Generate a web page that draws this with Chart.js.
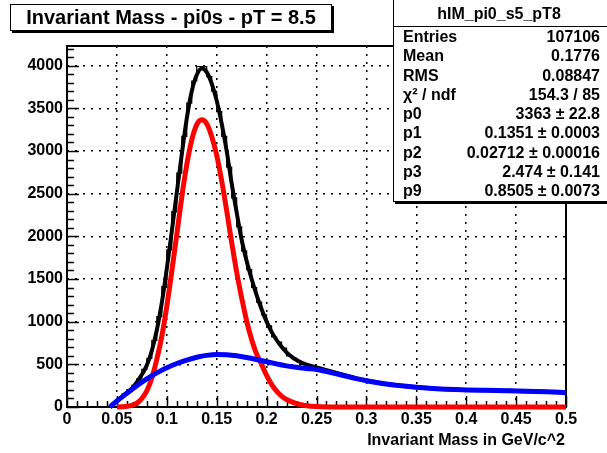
<!DOCTYPE html>
<html>
<head>
<meta charset="utf-8">
<script src="https://cdn.jsdelivr.net/npm/chart.js@4.4.0/dist/chart.umd.min.js"></script>
<style>
  body { margin: 0; background: #fff; }
  #wrap { position: relative; width: 607px; height: 453px; overflow: hidden; font-family: "Liberation Sans", Arial, sans-serif; font-weight: bold; }
  canvas { position: absolute; left: 0; top: 0; }
  .title { position: absolute; left: 10px; top: 4px; width: 320px; height: 25px; border: 1px solid #000; box-shadow: 2px 2px 0 #000; background: #fff; font-size: 20px; line-height: 25px; text-align: center; }
  .stats { position: absolute; left: 393px; top: -1px; width: 220px; height: 201px; border: 1.5px solid #000; box-shadow: 2px 2px 0 #000; background: #fff; }
  .stats .head { height: 26px; line-height: 27px; border-bottom: 1.5px solid #000; text-align: center; font-size: 16px; padding-right: 10px; }
  .stats .row { position: relative; height: 19.3px; line-height: 19.3px; font-size: 16px; }
  .stats .row span { position: absolute; }
  .stats .row .k { left: 9px; }
  .stats .row .v { right: 14px; }
  .xtitle { position: absolute; right: 42px; top: 431px; font-size: 16px; }
</style>
</head>
<body>
<div id="wrap">
  <canvas id="c" width="607" height="453"></canvas>
  <div class="title">Invariant Mass - pi0s - pT = 8.5</div>
  <div class="stats" id="stats"><div class="head">hIM_pi0_s5_pT8</div></div>
  <div class="xtitle">Invariant Mass in GeV/c^2</div>
</div>
<script>
// histogram bins (centres) and contents
const histX = [0.0425,0.0475,0.0525,0.0575,0.0625,0.0675,0.0725,0.0775,0.0825,0.0875,
  0.0925,0.0975,0.1025,0.1075,0.1125,0.1175,0.1225,0.1275,0.1325,0.1375,
  0.1425,0.1475,0.1525,0.1575,0.1625,0.1675,0.1725,0.1775,0.1825,0.1875,
  0.1925,0.1975,0.2025,0.2075,0.2125,0.2175,0.2225,0.2275,0.2325,0.2375,
  0.2425,0.2475,0.2525,0.2575,0.2625,0.2675,0.2725,0.2775,0.2825,0.2875,
  0.2925,0.2975,0.3025,0.3075,0.3125,0.3175,0.3225,0.3275,0.3325,0.3375,
  0.3425,0.3475,0.3525,0.3575,0.3625,0.3675,0.3725,0.3775,0.3825,0.3875,
  0.3925,0.3975,0.4025,0.4075,0.4125,0.4175,0.4225,0.4275,0.4325,0.4375,
  0.4425,0.4475,0.4525,0.4575,0.4625,0.4675,0.4725,0.4775,0.4825,0.4875,
  0.4925,0.4975];
const histY = [10,45,100,150,205,255,330,440,570,780,
  1060,1410,1840,2290,2740,3170,3560,3820,3990,3990,
  3870,3700,3460,3170,2810,2450,2110,1830,1610,1400,
  1230,1080,950,820,760,690,600,570,530,505,
  480,460,440,445,420,400,385,365,350,330,
  320,300,305,290,275,280,262,250,255,240,
  238,230,235,222,220,212,215,208,210,200,
  205,198,200,195,197,190,195,192,188,194,
  190,186,190,184,186,180,182,176,178,172,
  170,168];

// total fit (black)
const totalX = [0.043,0.05,0.055,0.06,0.065,0.07,0.075,0.08,0.085,0.09,
  0.095,0.1,0.105,0.11,0.115,0.12,0.125,0.13,0.135,0.14,
  0.145,0.15,0.155,0.16,0.165,0.17,0.175,0.18,0.185,0.19,
  0.195,0.2,0.205,0.21,0.215,0.22,0.225,0.23,0.235,0.24,
  0.25,0.26,0.27,0.28,0.29,0.3,0.32,0.34,0.36,0.38,
  0.4,0.42,0.44,0.46,0.48,0.5];
const totalY = [0,72,118,168,218,290,380,490,660,900,
  1220,1620,2060,2510,2960,3380,3700,3890,3965,3925,
  3790,3590,3320,3000,2620,2280,1960,1710,1500,1310,
  1145,1000,880,785,705,640,590,550,520,497,
  465,432,400,368,336,310,270,243,223,209,
  200,195,191,186,178,168];

// signal (red)
const signalX = [0.05,0.055,0.06,0.065,0.07,0.075,0.08,0.085,0.09,0.095,
  0.1,0.105,0.11,0.115,0.12,0.125,0.13,0.135,0.14,0.145,
  0.15,0.155,0.16,0.165,0.17,0.175,0.18,0.185,0.19,0.195,
  0.2,0.205,0.21,0.215,0.22,0.23,0.24,0.25,0.27,0.3,
  0.4,0.5];
const signalY = [0,3,8,20,45,100,190,340,560,830,
  1180,1590,2020,2460,2840,3130,3310,3365,3320,3170,
  2950,2650,2300,1930,1580,1280,1010,790,620,500,
  370,265,185,128,88,40,15,5,0,0,
  0,0];

// background (blue)
const bkgX = [0.043,0.05,0.06,0.07,0.08,0.09,0.1,0.11,0.12,0.13,
  0.14,0.15,0.16,0.17,0.18,0.19,0.2,0.21,0.22,0.23,
  0.24,0.25,0.26,0.27,0.28,0.29,0.3,0.31,0.32,0.33,
  0.34,0.35,0.36,0.37,0.38,0.39,0.4,0.42,0.44,0.46,
  0.48,0.5];
const bkgY = [0,70,160,250,330,400,460,510,550,583,
  605,615,612,600,580,556,530,505,482,465,
  452,440,415,388,360,332,308,288,270,256,
  243,232,223,215,209,204,200,195,191,186,
  178,168];

const xTicks = [0,0.05,0.1,0.15,0.2,0.25,0.3,0.35,0.4,0.45,0.5];
const xTickLabels = ["0","0.05","0.1","0.15","0.2","0.25","0.3","0.35","0.4","0.45","0.5"];
const yTicks = [0,500,1000,1500,2000,2500,3000,3500,4000];

const statsRows = [
  ["Entries", "107106"],
  ["Mean", "0.1776"],
  ["RMS", "0.08847"],
  ["\u03C7\u00B2 / ndf", "154.3 / 85"],
  ["p0", "3363 \u00B1 22.8"],
  ["p1", "0.1351 \u00B1 0.0003"],
  ["p2", "0.02712 \u00B1 0.00016"],
  ["p3", "2.474 \u00B1 0.141"],
  ["p9", "0.8505 \u00B1 0.0073"],
];

const stats = document.getElementById("stats");
statsRows.forEach(([k, v]) => {
  const row = document.createElement("div");
  row.className = "row";
  row.innerHTML = `<span class="k">${k}</span><span class="v">${v}</span>`;
  stats.appendChild(row);
});

const XMAX = 0.5, YMAX = 4230;
const font = { family: "'Liberation Sans', Arial, sans-serif", size: 16, weight: "bold" };

function pts(xs, ys) {
  return xs.map((x, i) => ({ x: x, y: ys[i] }));
}

// ROOT style frame with inward tick marks
const rootFrame = {
  id: "rootFrame",
  beforeDatasetsDraw(chart) {
    const { ctx, chartArea: a, scales: { x, y } } = chart;
    ctx.save();
    ctx.strokeStyle = "#000";
    ctx.lineWidth = 1.5;
    ctx.beginPath();
    for (let v = 0; v <= 4200; v += 100) {
      const py = Math.round(y.getPixelForValue(v)) + 0.5;
      const len = v % 500 === 0 ? 12 : 7;
      ctx.moveTo(a.left, py);
      ctx.lineTo(a.left + len, py);
    }
    for (let i = 0; i <= 50; i++) {
      const px = Math.round(x.getPixelForValue(i / 100)) + 0.5;
      const len = i % 5 === 0 ? 11 : 6;
      ctx.moveTo(px, a.bottom);
      ctx.lineTo(px, a.bottom - len);
    }
    ctx.stroke();
    ctx.lineWidth = 2;
    ctx.strokeRect(a.left, a.top, a.right - a.left, a.bottom - a.top);
    ctx.restore();
  },
};

new Chart(document.getElementById("c"), {
  type: "line",
  data: {
    datasets: [
      { label: "background", data: pts(bkgX, bkgY), borderColor: "#0000ff", borderWidth: 5, order: 0 },
      { label: "signal", data: pts(signalX, signalY), borderColor: "#ff0000", borderWidth: 5, order: 1 },
      { label: "total", data: pts(totalX, totalY), borderColor: "#000", borderWidth: 4, order: 2 },
      { label: "hIM_pi0_s5_pT8", data: pts(histX, histY), borderColor: "#000", borderWidth: 1.2,
        stepped: "middle", order: 3 },
    ],
  },
  options: {
    responsive: false,
    animation: false,
    layout: { padding: { left: 0, right: 41, top: 46, bottom: 0 } },
    elements: {
      point: { radius: 0 },
      line: { cubicInterpolationMode: "monotone", fill: false },
    },
    datasets: { line: { clip: false } },
    plugins: { legend: { display: false }, tooltip: { enabled: false } },
    scales: {
      x: {
        type: "linear",
        min: 0,
        max: XMAX,
        afterFit: (s) => { s.height = 46; },
        afterBuildTicks: (s) => { s.ticks = xTicks.map((v) => ({ value: v })); },
        ticks: {
          autoSkip: false,
          maxRotation: 0,
          padding: 3,
          color: "#000",
          font: font,
          callback: (v, i) => xTickLabels[i],
        },
        grid: {
          drawTicks: false,
          lineWidth: 1.5,
          color: (c) => (c.tick && c.tick.value > 0 && c.tick.value < XMAX ? "#000" : "rgba(0,0,0,0)"),
        },
        border: { display: false, dash: [2, 6] },
      },
      y: {
        type: "linear",
        min: 0,
        max: YMAX,
        afterFit: (s) => { s.width = 67; },
        afterBuildTicks: (s) => { s.ticks = yTicks.map((v) => ({ value: v })); },
        ticks: { padding: 4, color: "#000", font: font, callback: (v) => String(v) },
        grid: {
          drawTicks: false,
          lineWidth: 1.5,
          color: (c) => (c.tick && c.tick.value > 0 && c.tick.value < YMAX ? "#000" : "rgba(0,0,0,0)"),
        },
        border: { display: false, dash: [2, 6] },
      },
    },
  },
  plugins: [rootFrame],
});
</script>
</body>
</html>
